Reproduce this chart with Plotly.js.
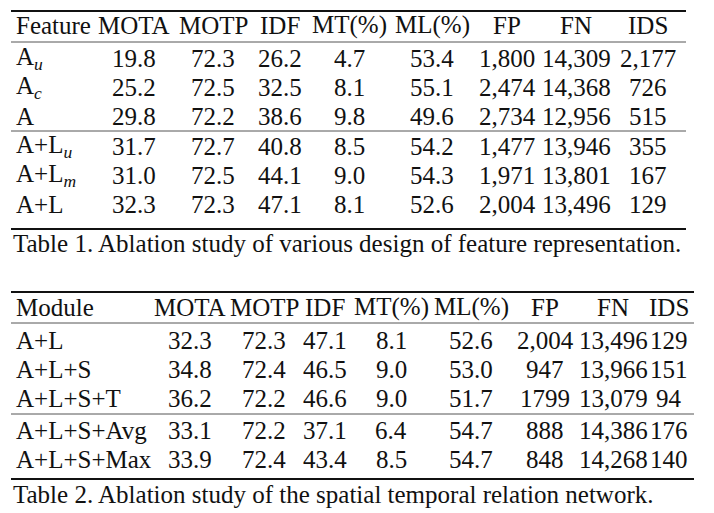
<!DOCTYPE html>
<html>
<head>
<meta charset="utf-8">
<script src="https://cdn.plot.ly/plotly-3.0.1.min.js"></script>
</head>
<body style="margin:0;background:#fff">
<div id="chart"></div>
<script>
// ---------- Data: Table 1 ----------
var headers1 = ["Feature", "MOTA", "MOTP", "IDF", "MT(%)", "ML(%)", "FP", "FN", "IDS"];
var features1 = ["A<sub><i>u</i></sub>", "A<sub><i>c</i></sub>", "A", "A+L<sub><i>u</i></sub>", "A+L<sub><i>m</i></sub>", "A+L"];
var mota1 = ["19.8", "25.2", "29.8", "31.7", "31.0", "32.3"];
var motp1 = ["72.3", "72.5", "72.2", "72.7", "72.5", "72.3"];
var idf1  = ["26.2", "32.5", "38.6", "40.8", "44.1", "47.1"];
var mt1   = ["4.7", "8.1", "9.8", "8.5", "9.0", "8.1"];
var ml1   = ["53.4", "55.1", "49.6", "54.2", "54.3", "52.6"];
var fp1   = ["1,800", "2,474", "2,734", "1,477", "1,971", "2,004"];
var fn1   = ["14,309", "14,368", "12,956", "13,946", "13,801", "13,496"];
var ids1  = ["2,177", "726", "515", "355", "167", "129"];
var caption1 = "Table 1. Ablation study of various design of feature representation.";

// ---------- Data: Table 2 ----------
var headers2 = ["Module", "MOTA", "MOTP", "IDF", "MT(%)", "ML(%)", "FP", "FN", "IDS"];
var modules2 = ["A+L", "A+L+S", "A+L+S+T", "A+L+S+Avg", "A+L+S+Max"];
var mota2 = ["32.3", "34.8", "36.2", "33.1", "33.9"];
var motp2 = ["72.3", "72.4", "72.2", "72.2", "72.4"];
var idf2  = ["47.1", "46.5", "46.6", "37.1", "43.4"];
var mt2   = ["8.1", "9.0", "9.0", "6.4", "8.5"];
var ml2   = ["52.6", "53.0", "51.7", "54.7", "54.7"];
var fp2   = ["2,004", "947", "1799", "888", "848"];
var fn2   = ["13,496", "13,966", "13,079", "14,386", "14,268"];
var ids2  = ["129", "151", "94", "176", "140"];
var caption2 = "Table 2. Ablation study of the spatial temporal relation network.";

// ---------- Layout geometry (axis units = pixels) ----------
var t1 = {
  left: 11, right: 686, colX: [14, 134, 213, 280, 349, 432, 507, 576, 648],
  headY: 25, rowY: [58, 87, 116, 146, 175, 204],
  top: 11, headRule: 42, midRule: 131, bottom: 229, capY: 243, capX: 11
};
var t2 = {
  left: 11, right: 694, colX: [14, 190, 264, 325, 391, 471, 545, 613, 669],
  headY: 307, rowY: [340, 369, 398, 430, 459],
  top: 292, headRule: 323, midRule: 414, bottom: 479, capY: 494, capX: 11
};

function ann(x, y, text, anchor) {
  return {x: x, y: y, xref: "x", yref: "y", text: text, showarrow: false,
    xanchor: anchor, yanchor: "middle",
    font: {family: "Liberation Serif", size: 25, color: "#111"}};
}

function buildTable(geo, headers, labels, cols, caption) {
  var out = [];
  out.push(ann(geo.colX[0], geo.headY, headers[0], "left"));
  headers.slice(1).forEach(function(h, i){ out.push(ann(geo.colX[i + 1], geo.headY, h, "center")); });
  labels.forEach(function(m, r){ out.push(ann(geo.colX[0], geo.rowY[r], m, "left")); });
  cols.forEach(function(col, i) {
    col.forEach(function(v, r){ out.push(ann(geo.colX[i + 1], geo.rowY[r], v, "center")); });
  });
  out.push(ann(geo.capX, geo.capY, caption, "left"));
  return out;
}

var annotations = [].concat(
  buildTable(t1, headers1, features1, [mota1, motp1, idf1, mt1, ml1, fp1, fn1, ids1], caption1),
  buildTable(t2, headers2, modules2, [mota2, motp2, idf2, mt2, ml2, fp2, fn2, ids2], caption2)
);

// Horizontal rules (booktabs style) as line traces
function rule(geo, y, w, color) {
  return {type: "scatter", mode: "lines", x: [geo.left, geo.right], y: [y, y],
    line: {color: color, width: w}, hoverinfo: "skip", showlegend: false};
}
var traces = [
  rule(t1, t1.top, 2.2, "#111"), rule(t1, t1.headRule, 1, "#555"), rule(t1, t1.midRule, 1, "#555"), rule(t1, t1.bottom, 2.2, "#111"),
  rule(t2, t2.top, 2.2, "#111"), rule(t2, t2.headRule, 1, "#555"), rule(t2, t2.midRule, 1, "#555"), rule(t2, t2.bottom, 2.2, "#111")
];

Plotly.newPlot("chart", traces, {
  width: 714, height: 513,
  margin: {l: 0, r: 0, t: 0, b: 0},
  paper_bgcolor: "#fff", plot_bgcolor: "#fff",
  xaxis: {range: [0, 714], visible: false},
  yaxis: {range: [513, 0], visible: false},
  annotations: annotations, showlegend: false
}, {staticPlot: true});
</script>
</body>
</html>
